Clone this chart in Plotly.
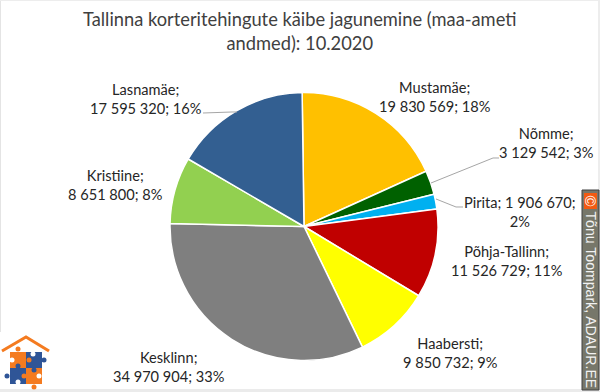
import plotly.graph_objects as go

W, H = 600, 392
TITLE = "Tallinna korteritehingute käibe jagunemine (maa-ameti<br>andmed): 10.2020"
districts = ["Mustamäe", "Nõmme", "Pirita", "Põhja-Tallinn", "Haabersti", "Kesklinn", "Kristiine", "Lasnamäe"]
turnover = [19830569, 3129542, 1906670, 11526729, 9850732, 34970904, 8651800, 17595320]
percent_labels = ["18%", "3%", "2%", "11%", "9%", "33%", "8%", "16%"]
turnover_labels = ["19 830 569", "3 129 542", "1 906 670", "11 526 729", "9 850 732", "34 970 904", "8 651 800", "17 595 320"]
colors = ["#FFC000", "#006100", "#00B0F0", "#C00000", "#FFFF00", "#7F7F7F", "#92D050", "#335F91"]
WATERMARK = "Tõnu Toompark, ADAUR.EE"
FONT = "Lato, Carlito, Calibri, sans-serif"

label_pos = [(435, 97), (546, 143), (520, 212), (507, 261), (450, 353), (169, 367), (115, 185), (146, 99)]
label_break = ["n", "n", "v", "n", "n", "n", "n", "n"]

def px(x): return x / W
def py(y): return 1 - y / H

fig = go.Figure(go.Pie(
    labels=districts, values=turnover, sort=False, direction="clockwise", rotation=-0.8,
    marker=dict(colors=colors, line=dict(color="white", width=1.5)),
    textinfo="none", hoverinfo="label+value+percent", showlegend=False,
    domain=dict(x=[px(170), px(438)], y=[py(360.5), py(92.5)]),
))

annotations = [dict(text=TITLE, x=px(299.5), y=py(31), xref="paper", yref="paper", showarrow=False,
                    font=dict(family=FONT, size=18.3, color="#404040"), align="center", xanchor="center", yanchor="middle")]
for name, tv, pct, (x, y), br in zip(districts, turnover_labels, percent_labels, label_pos, label_break):
    text = f"{name}; {tv};<br>{pct}" if br == "v" else f"{name};<br>{tv}; {pct}"
    annotations.append(dict(text=text, x=px(x), y=py(y), xref="paper", yref="paper", showarrow=False,
                            font=dict(family=FONT, size=14.6, color="#262626"), align="center", xanchor="center", yanchor="middle"))
annotations.append(dict(text=WATERMARK, x=px(590.5), y=py(300), xref="paper", yref="paper", showarrow=False, textangle=90,
                        font=dict(family="Liberation Sans, sans-serif", size=14.1, color="#F2F2F2"), xanchor="center", yanchor="middle"))
annotations.append(dict(text="©", x=px(590.5), y=py(201), xref="paper", yref="paper", showarrow=False, textangle=90,
                        font=dict(family="Liberation Sans, sans-serif", size=15, color="white"), xanchor="center", yanchor="middle"))

def rect(x0, y0, x1, y1, fill, line=None, lw=0):
    return dict(type="rect", xref="paper", yref="paper", x0=px(x0), x1=px(x1), y0=py(y0), y1=py(y1),
                fillcolor=fill, line=dict(color=line or fill, width=lw), layer="above")
def circ(cx, cy, r, fill):
    return dict(type="circle", xref="paper", yref="paper", x0=px(cx-r), x1=px(cx+r), y0=py(cy-r), y1=py(cy+r),
                fillcolor=fill, line=dict(width=0), layer="above")
def path(points, color="#A6A6A6", width=1):
    d = "M " + " L ".join(f"{px(a):.5f},{py(b):.5f}" for a, b in points)
    return dict(type="path", xref="paper", yref="paper", path=d, line=dict(color=color, width=width), layer="above")

OR, BL = "#F47B20", "#2F5597"
shapes = [
    rect(0, 0, 1, 332, "#E4E4E4"), rect(0, 389, 600, 392, "#EBEBEB"), rect(598, 0, 600, 392, "#EDEDED"), rect(0, 0, 600, 1, "#EDEDED"),
    path([(203, 113), (232, 112), (237, 112)]),
    path([(431, 183), (493, 158), (499, 158)]),
    path([(436, 199), (456, 207), (463, 207)]),
    rect(582, 190, 599, 390, "#77776A", "#404040", 1),
    rect(584, 193, 597, 209, "#F25A12"),
    path([(2, 351), (26, 337), (49, 351)], OR, 3),
    rect(10, 352, 26, 368, OR), rect(26, 352, 42, 368, BL), rect(10, 368, 26, 384, BL), rect(26, 368, 42, 384, OR),
    circ(18, 349, 2.5, OR), circ(44, 360, 2.5, BL), circ(7, 376, 2.5, BL), circ(34, 387, 2.5, OR),
    circ(12, 360, 2.5, "white"), circ(33, 354, 2.5, "white"), circ(18, 366, 2.5, BL), circ(29, 360, 2.5, OR),
    circ(18, 382, 2.5, "white"), circ(39, 376, 2.5, "white"), circ(24, 376, 2.5, OR), circ(34, 370, 2.5, BL),
]

fig.update_layout(width=W, height=H, margin=dict(l=0, r=0, t=0, b=0), paper_bgcolor="white",
                  annotations=annotations, shapes=shapes, showlegend=False)
fig.write_html("out.html", config=dict(displayModeBar=False),
               post_script="document.body.style.margin='0';document.body.style.overflow='hidden';")
